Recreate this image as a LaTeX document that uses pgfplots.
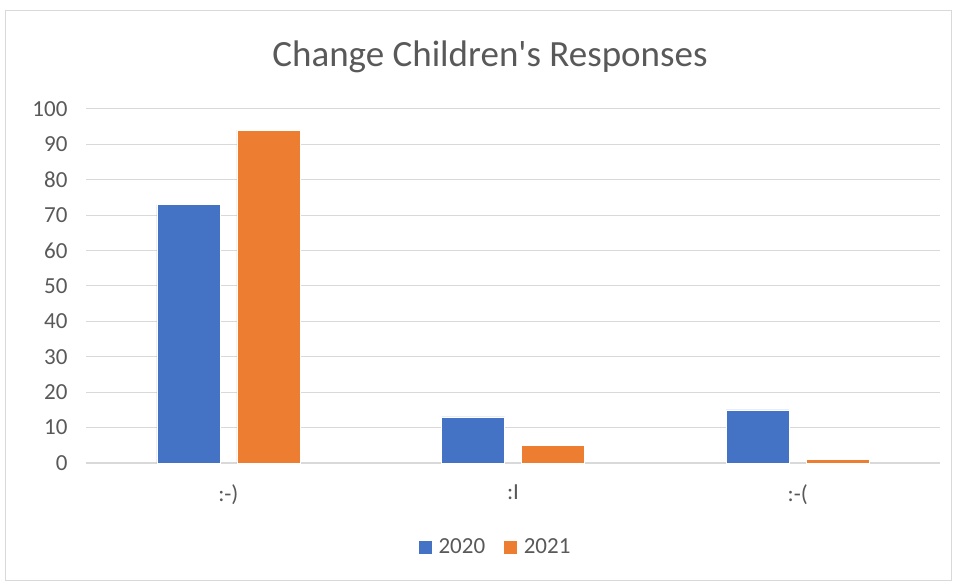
\documentclass[border=0pt]{standalone}
\usepackage{fontspec}
\setmainfont{Carlito}
\usepackage{pgfplots}
\pgfplotsset{compat=1.18}
\definecolor{cblue}{HTML}{4472C4}
\definecolor{corange}{HTML}{ED7D31}
\definecolor{cgrid}{HTML}{D9D9D9}
\definecolor{ctext}{HTML}{595959}
\begin{document}
\begin{tikzpicture}[x=1pt,y=1pt]
\useasboundingbox (0,0) rectangle (958,581);
\draw[cgrid, line width=1pt] (5.5,1) rectangle (951.5,570.5);
\node[text=ctext, font=\fontsize{37}{40}\selectfont] at (490,524) {Change Children\textquotesingle s Responses};
\begin{axis}[
  at={(86pt,118pt)}, anchor=south west,
  scale only axis, width=854pt, height=354pt,
  ybar=17pt, bar width=63pt,
  xmin=-0.5, xmax=2.5, ymin=0, ymax=100,
  xtick={0,1,2}, xticklabels={{:-)},{:I},{:-(}},
  ytick={0,10,...,100},
  major tick length=0pt,
  axis line style={draw=none},
  ymajorgrids, grid style={cgrid, line width=1pt},
  extra y ticks={0}, extra y tick style={grid style={cgrid,line width=1.4pt}, yticklabels={}},
  tick label style={text=ctext, font=\fontsize{23}{25}\selectfont},
  /pgf/number format/assume math mode=true,
  yticklabel style={xshift=-15pt},
  xticklabel style={yshift=-18pt},
  legend style={at={(0.478,-0.237)}, anchor=center, draw=none, legend columns=2,
    font=\fontsize{23}{25}\selectfont, text=ctext,
    nodes={inner sep=0pt},
    /tikz/every odd column/.append style={column sep=6pt},
    /tikz/every even column/.append style={column sep=18pt}},
  legend image code/.code={\fill[#1] (0pt,-7pt) rectangle (14pt,7pt);},
]
\addplot[fill=cblue, draw=white, line width=0.6pt] coordinates {(0,73) (1,13) (2,15)};
\addplot[fill=corange, draw=white, line width=0.6pt] coordinates {(0,94) (1,5) (2,1)};
\legend{2020,2021}
\end{axis}
\end{tikzpicture}
\end{document}
